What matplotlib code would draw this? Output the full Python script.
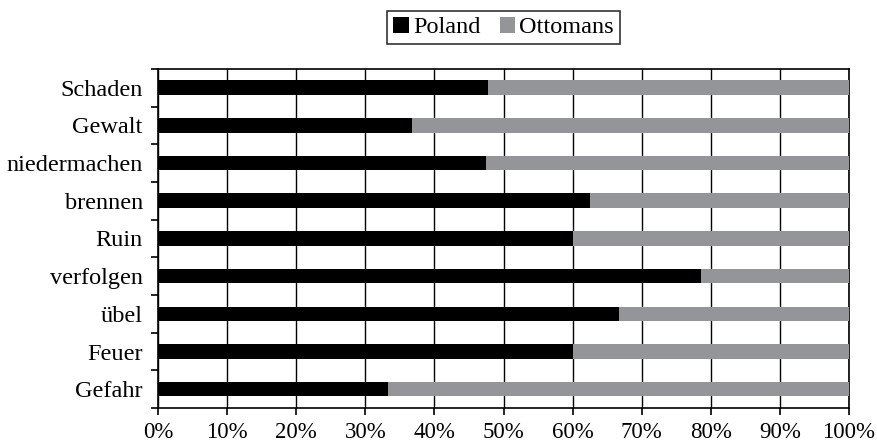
import matplotlib
matplotlib.use("Agg")
import matplotlib.pyplot as plt
from matplotlib.ticker import PercentFormatter, FixedLocator, NullFormatter

categories = ["Schaden", "Gewalt", "niedermachen", "brennen", "Ruin",
              "verfolgen", "übel", "Feuer", "Gefahr"]
poland = [47.8, 36.8, 47.4, 62.5, 60.0, 78.6, 66.7, 60.0, 33.3]
ottomans = [100 - p for p in poland]
xticks = [0, 10, 20, 30, 40, 50, 60, 70, 80, 90, 100]

plt.rcParams['font.family'] = ['Liberation Serif', 'DejaVu Serif']

fig = plt.figure(figsize=(8.78, 4.44), dpi=100)
ax = fig.add_axes([0.18, 0.081, 0.787, 0.764])

n = len(categories)
ypos = list(range(n))[::-1]
bh = 0.385
ax.barh(ypos, poland, height=bh, color="black", label="Poland", zorder=3)
ax.barh(ypos, ottomans, left=poland, height=bh, color="#939598",
        label="Ottomans", zorder=3)

ax.set_xlim(0, 100)
ax.set_ylim(-0.5, n - 0.5)
ax.set_xticks(xticks)
ax.xaxis.set_major_formatter(PercentFormatter(decimals=0))
ax.xaxis.grid(True, color="black", linewidth=1.0, zorder=1)

ax.set_yticks(ypos)
ax.set_yticklabels(categories)
ax.yaxis.set_minor_locator(FixedLocator([i - 0.5 for i in range(n + 1)]))
ax.yaxis.set_minor_formatter(NullFormatter())
ax.tick_params(axis="y", which="major", length=0, labelsize=17.5, pad=11)
ax.tick_params(axis="y", which="minor", length=5, width=1.2)
ax.tick_params(axis="x", length=5, width=1.2, labelsize=16.5, pad=5)

for s in ax.spines.values():
    s.set_linewidth(1.2)
    s.set_color("black")

leg = ax.legend(loc="lower center", bbox_to_anchor=(0.5, 1.072), ncol=2,
                frameon=True, fontsize=17.5, handlelength=0.65, handleheight=0.65,
                handletextpad=0.15, columnspacing=0.8, borderpad=0.25,
                borderaxespad=0.0, fancybox=False, edgecolor="black")
leg.get_frame().set_linewidth(1.2)

fig.savefig("out.png", dpi=100)
